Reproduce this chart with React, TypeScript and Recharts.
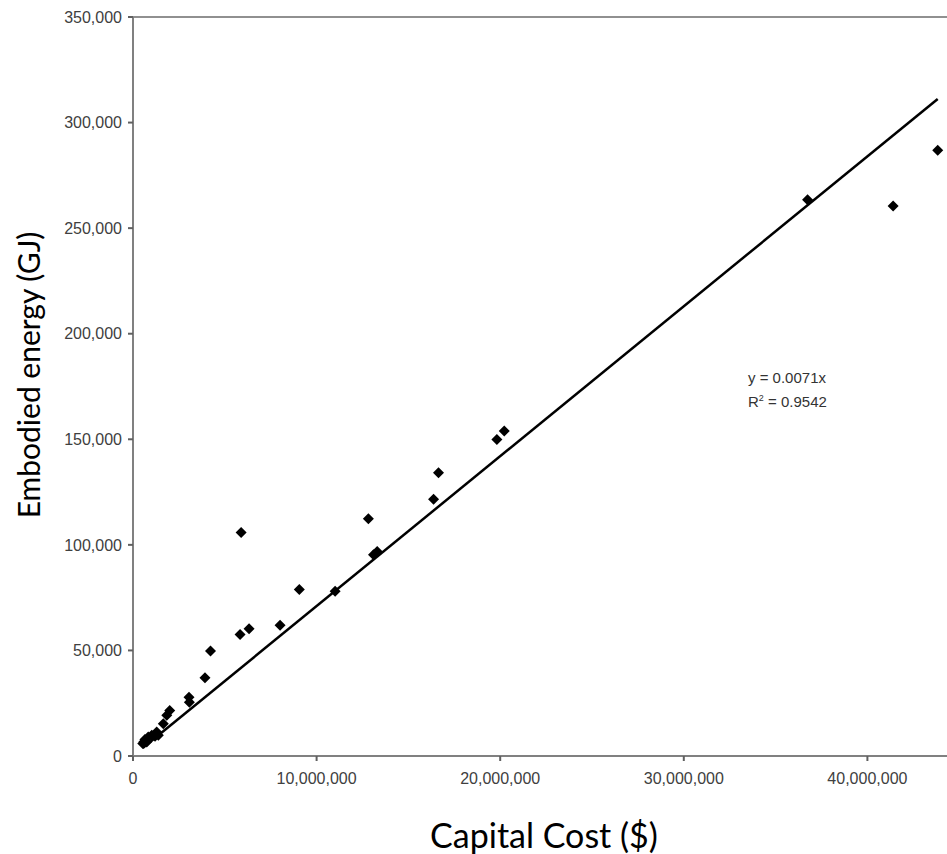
import React from 'react';
import {
  ScatterChart,
  Scatter,
  XAxis,
  YAxis,
  ReferenceLine,
} from 'recharts';

// capital cost ($) and embodied energy (GJ)
const capitalCost = [
  530000, 600000, 650000, 750000, 830000, 1020000, 1200000, 1290000, 1380000,
  1650000, 1840000, 2000000, 3050000, 3070000, 3920000, 4220000, 5830000,
  5890000, 6320000, 8010000, 9060000, 11010000, 12820000, 13100000, 13300000,
  16370000, 16640000, 19820000, 20220000, 36740000, 41400000, 43830000,
];
const embodiedEnergy = [
  5900, 6800, 7800, 6600, 9000, 9800, 9300, 11400, 9800,
  15300, 19300, 21600, 27800, 25400, 37100, 49700, 57600,
  105900, 60300, 61900, 78800, 78000, 112400, 95300, 96800,
  121600, 134200, 149900, 153900, 263500, 260500, 286900,
];

const xTicks = [0, 10000000, 20000000, 30000000, 40000000];
const yTicks = [0, 50000, 100000, 150000, 200000, 250000, 300000, 350000];

// trendline through origin
const slope = 0.0071;
const rSquared = 0.9542;

const points = capitalCost.map((x, i) => ({ x, y: embodiedEnergy[i] }));
const minX = Math.min(...capitalCost);
const maxX = Math.max(...capitalCost);

const fmt = (v: number) => v.toLocaleString('en-US');

const Diamond = (props: any) => {
  const { cx, cy } = props;
  const r = 5.5;
  return (
    <polygon
      points={`${cx},${cy - r} ${cx + r},${cy} ${cx},${cy + r} ${cx - r},${cy}`}
      fill="#000"
    />
  );
};

const tickStyle = { fontFamily: '"Liberation Sans", Arial, sans-serif', fontSize: 16, fill: '#404040' };

export default function App() {
  return (
    <div
      style={{
        position: 'fixed',
        left: 0,
        top: 0,
        width: 947,
        height: 854,
        overflow: 'hidden',
        background: '#fff',
      }}
    >
      {/* plot runs on to 50M, the right part is cut off like in the source */}
      <ScatterChart
        width={1071}
        height={854}
        margin={{ top: 17, right: 20, bottom: 0, left: 0 }}
      >
        <XAxis
          type="number"
          dataKey="x"
          domain={[0, 50000000]}
          ticks={xTicks}
          tickFormatter={fmt}
          tick={tickStyle}
          tickSize={5}
          tickMargin={12}
          height={98}
          axisLine={{ stroke: '#808080', strokeWidth: 2 }}
          tickLine={{ stroke: '#606060', strokeWidth: 2 }}
        />
        <YAxis
          type="number"
          dataKey="y"
          domain={[0, 350000]}
          ticks={yTicks}
          tickFormatter={fmt}
          tick={tickStyle}
          tickSize={5}
          tickMargin={6}
          width={133}
          axisLine={{ stroke: '#808080', strokeWidth: 2 }}
          tickLine={{ stroke: '#606060', strokeWidth: 2 }}
        />
        <ReferenceLine y={350000} stroke="#909090" strokeWidth={2} />
        <ReferenceLine x={50000000} stroke="#909090" strokeWidth={2} />
        <ReferenceLine
          segment={[
            { x: minX, y: slope * minX },
            { x: maxX, y: slope * maxX },
          ]}
          stroke="#000"
          strokeWidth={2.5}
        />
        <Scatter data={points} shape={Diamond} isAnimationActive={false} />
      </ScatterChart>

      <div
        style={{
          position: 'absolute',
          left: 748,
          top: 368,
          fontFamily: '"Liberation Sans", Arial, sans-serif',
          fontSize: 15,
          lineHeight: '20px',
          color: '#333',
        }}
      >
        <div>y = {slope}x</div>
        <div>
          R<sup style={{ fontSize: 9, verticalAlign: '6px' }}>2</sup> = {rSquared}
        </div>
      </div>

      <div
        style={{
          position: 'absolute',
          left: 544,
          top: 834,
          transform: 'translate(-50%, -50%)',
          fontFamily: 'Lato, "Open Sans", sans-serif',
          fontSize: 34,
          whiteSpace: 'nowrap',
          color: '#000',
        }}
      >
        Capital Cost ($)
      </div>
      <div
        style={{
          position: 'absolute',
          left: 28,
          top: 375,
          transform: 'translate(-50%, -50%) rotate(-90deg)',
          fontFamily: 'Lato, "Open Sans", sans-serif',
          fontSize: 30,
          whiteSpace: 'nowrap',
          color: '#000',
        }}
      >
        Embodied energy (GJ)
      </div>
    </div>
  );
}
